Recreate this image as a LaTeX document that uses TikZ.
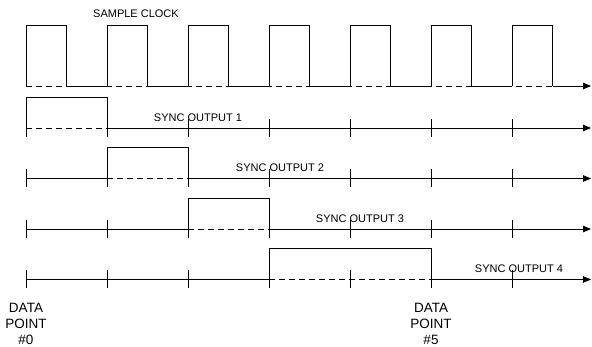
\documentclass[tikz,border=0pt]{standalone}
\usepackage{fontspec}
\setmainfont{Liberation Sans}
\usetikzlibrary{arrows.meta}
\tikzset{
    signal/.style = {
        line width=0.8pt, line join=miter
    },
    hidden/.style = {
        line width=0.8pt,
        dash pattern=on 6pt off 4pt
    },
    axis/.style = {
        line width=0.8pt,
        -{Triangle[length=8pt, width=6.5pt]}
    },
    tickmark/.style = {
        line width=0.8pt
    },
    siglabel/.style = {
        font=\fontsize{11}{13}\selectfont,
        inner sep=0pt
    },
    datalabel/.style = {
        font=\fontsize{13.5}{16}\selectfont,
        align=center, inner sep=0pt, anchor=north
    }
}

\begin{document}
\begin{tikzpicture}[x=1pt, y=-1pt]

\useasboundingbox (0,0) rectangle (592,347);

% sample clock
\node (clock) [siglabel] at (136,14) {SAMPLE CLOCK};
\draw [hidden] (26,86) -- (553,86);
\foreach \x in {26,107,...,431}
    \draw [signal] (\x,86) -- (\x,25) -- ++(40.5,0) -- ++(0,61) -- ++(40.5,0);
\draw [signal] (512,86) -- (512,25) -- (552.5,25) -- (552.5,86);
\draw [axis] (552.5,86) -- (591,86);

% sync outputs: row / start / end / label x
\foreach \row/\a/\b/\lx in {1/26/107/198, 2/107/188/280, 3/188/269/360, 4/269/431/519} {
    \pgfmathsetmacro{\base}{128+50.5*(\row-1)}
    \pgfmathsetmacro{\high}{\base-31}
    \foreach \x in {26,107,...,512}
        \draw [tickmark] (\x,\base-9) -- (\x,\base+9);
    \draw [signal] (26,\base) -- (\a,\base);
    \draw [hidden] (\a,\base) -- (\b,\base);
    \draw [signal] (\a,\base) -- (\a,\high) -- (\b,\high) -- (\b,\base);
    \draw [axis] (\b,\base) -- (591,\base);
    \node (sync\row) [siglabel] at (\lx,\base-10.5) {SYNC OUTPUT \row};
}

% data points
\node (dp0) [datalabel] at (26,303) {DATA\\POINT\\\#0};
\node (dp5) [datalabel] at (431,303) {DATA\\POINT\\\#5};

\end{tikzpicture}
\end{document}
